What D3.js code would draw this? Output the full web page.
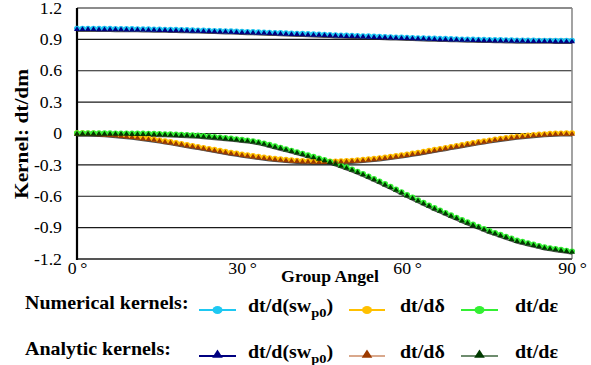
<!DOCTYPE html>
<html>
<head>
<meta charset="UTF-8">
<title>kernels</title>
<style>
  body { margin: 0; background: #fff; }
  svg { display: block; }
  svg text { font-family: "Liberation Serif", "Times New Roman", serif; fill: #000; }
</style>
<script src="https://d3js.org/d3.v7.min.js"></script>
</head>
<body>
<div id="chart"></div>
<script>
// group angle in degrees, one sample per degree
const angles = d3.range(0, 91, 1);

// dt/d(sw_p0)
const kernSw = [
  1.000, 1.000, 1.000, 1.000, 0.999, 0.999, 0.999, 0.998, 0.998, 0.997,
  0.997, 0.996, 0.995, 0.994, 0.993, 0.992, 0.991, 0.990, 0.989, 0.988,
  0.987, 0.985, 0.984, 0.982, 0.981, 0.979, 0.978, 0.976, 0.975, 0.973,
  0.971, 0.969, 0.968, 0.966, 0.964, 0.962, 0.960, 0.958, 0.956, 0.954,
  0.952, 0.951, 0.949, 0.947, 0.945, 0.943, 0.941, 0.938, 0.936, 0.934,
  0.933, 0.931, 0.929, 0.927, 0.925, 0.923, 0.921, 0.919, 0.917, 0.916,
  0.914, 0.912, 0.910, 0.909, 0.907, 0.906, 0.904, 0.903, 0.901, 0.900,
  0.898, 0.897, 0.896, 0.895, 0.894, 0.893, 0.892, 0.891, 0.890, 0.889,
  0.888, 0.888, 0.887, 0.887, 0.886, 0.886, 0.886, 0.885, 0.885, 0.885,
  0.885
];

// dt/d(delta)
const kernDelta = [
  0.000, 0.000, -0.001, -0.003, -0.005, -0.008, -0.012, -0.016, -0.021, -0.026,
  -0.032, -0.038, -0.045, -0.052, -0.059, -0.068, -0.076, -0.084, -0.093, -0.102,
  -0.112, -0.121, -0.130, -0.140, -0.149, -0.158, -0.168, -0.177, -0.186, -0.194,
  -0.203, -0.210, -0.218, -0.225, -0.232, -0.238, -0.244, -0.249, -0.254, -0.258,
  -0.262, -0.265, -0.267, -0.269, -0.270, -0.270, -0.270, -0.269, -0.267, -0.265,
  -0.262, -0.258, -0.254, -0.249, -0.244, -0.238, -0.232, -0.225, -0.218, -0.210,
  -0.203, -0.194, -0.186, -0.177, -0.168, -0.158, -0.149, -0.140, -0.130, -0.121,
  -0.112, -0.102, -0.093, -0.084, -0.076, -0.068, -0.059, -0.052, -0.045, -0.038,
  -0.032, -0.026, -0.021, -0.016, -0.012, -0.008, -0.005, -0.003, -0.001, 0.000,
  0.000
];

// dt/d(epsilon)
const kernEps = [
  0.000, 0.000, 0.000, 0.000, 0.000, 0.000, 0.000, -0.001, -0.001, -0.001,
  -0.002, -0.002, -0.003, -0.004, -0.005, -0.006, -0.008, -0.010, -0.012, -0.014,
  -0.016, -0.019, -0.022, -0.026, -0.030, -0.035, -0.040, -0.045, -0.050, -0.056,
  -0.062, -0.068, -0.075, -0.085, -0.097, -0.110, -0.124, -0.138, -0.152, -0.166,
  -0.180, -0.195, -0.210, -0.225, -0.240, -0.255, -0.271, -0.288, -0.306, -0.325,
  -0.345, -0.367, -0.389, -0.412, -0.436, -0.460, -0.485, -0.511, -0.537, -0.563,
  -0.590, -0.615, -0.640, -0.665, -0.690, -0.715, -0.738, -0.761, -0.784, -0.807,
  -0.830, -0.851, -0.872, -0.893, -0.914, -0.935, -0.953, -0.971, -0.989, -1.007,
  -1.025, -1.038, -1.051, -1.064, -1.077, -1.090, -1.098, -1.106, -1.114, -1.122,
  -1.130
];

// numerical and analytic kernels sit on top of each other in the figure
const numSw = kernSw, numDelta = kernDelta, numEps = kernEps;
const anaSw = kernSw.slice(), anaDelta = kernDelta.slice(), anaEps = kernEps.slice();

const yTicks = [1.2, 0.9, 0.6, 0.3, 0, -0.3, -0.6, -0.9, -1.2];
const xTicks = [0, 30, 60, 90];

const numerical = [
  { name: "sw", values: numSw, color: "#1ec8f2" },
  { name: "delta", values: numDelta, color: "#ffc000" },
  { name: "eps", values: numEps, color: "#33f033" }
];
const analytic = [
  { name: "sw", values: anaSw, color: "#000080", legendLine: "#000080" },
  { name: "delta", values: anaDelta, color: "#9c3a00", legendLine: "#d9a88c" },
  { name: "eps", values: anaEps, color: "#003a00", legendLine: "#6e8c6e" }
];

// the picture is stretched sideways, draw in logical units and let the viewBox stretch
const SX = 1.11;
const W = 591, H = 365;
const px = v => v / SX;
const SERIF = '"Liberation Serif", "Times New Roman", serif';

const svg = d3.select("#chart").append("svg")
  .attr("width", W).attr("height", H)
  .attr("viewBox", `0 0 ${W / SX} ${H}`)
  .attr("preserveAspectRatio", "none");

const x = d3.scaleLinear().domain([0, 90]).range([px(77), px(572)]);
const y = d3.scaleLinear().domain([-1.2, 1.2]).range([259, 8]);

// grid
svg.append("g")
  .selectAll("line").data(yTicks.filter(d => d !== -1.2)).join("line")
  .attr("x1", x(0)).attr("x2", x(90))
  .attr("y1", d => y(d)).attr("y2", d => y(d))
  .attr("stroke", "#1a1a1a").attr("stroke-width", 1.1);

// right edge
svg.append("line")
  .attr("x1", x(90)).attr("x2", x(90)).attr("y1", y(1.2)).attr("y2", y(-1.2))
  .attr("stroke", "#888").attr("stroke-width", 1.4);

// y axis
const yAxis = svg.append("g")
  .attr("transform", `translate(${x(0)},0)`)
  .call(d3.axisLeft(y).tickValues(yTicks).tickSize(0).tickPadding(0)
    .tickFormat(d => d === 0 ? "0" : d.toFixed(1)));
yAxis.select(".domain").remove();
yAxis.selectAll("text")
  .attr("x", px(62) - x(0))
  .style("font-size", "16px")
  .style("font-family", SERIF);

// x axis labels
const xAxis = svg.append("g")
  .attr("transform", `translate(0,${y(-1.2)})`)
  .call(d3.axisBottom(x).tickValues(xTicks).tickSize(0).tickPadding(0)
    .tickFormat(d => d + "\u2009°"));
xAxis.select(".domain").remove();
xAxis.selectAll("text")
  .attr("y", 15).attr("dy", 0)
  .style("font-size", "16px")
  .style("font-family", SERIF);

// frame lines
svg.append("line")
  .attr("x1", x(0)).attr("x2", x(90)).attr("y1", y(-1.2)).attr("y2", y(-1.2))
  .attr("stroke", "#555").attr("stroke-width", 2);
svg.append("line")
  .attr("x1", x(0)).attr("x2", x(0)).attr("y1", y(1.2)).attr("y2", y(-1.2) + 1)
  .attr("stroke", "#000").attr("stroke-width", 2);

// axis titles
svg.append("text")
  .attr("x", px(330)).attr("y", 282)
  .attr("text-anchor", "middle")
  .attr("font-size", 16).attr("font-weight", "bold")
  .text("Group Angel");
svg.append("text")
  .attr("transform", `translate(${px(28)},${134}) rotate(-90)`)
  .attr("text-anchor", "middle")
  .attr("font-size", 17).attr("font-weight", "bold")
  .attr("textLength", 130).attr("lengthAdjust", "spacingAndGlyphs")
  .text("Kernel: dt/dm");

// curves
const line = d3.line().x((d, i) => x(angles[i])).y(d => y(d));
const tri = d3.symbol().type(d3.symbolTriangle).size(13);

analytic.forEach(s => {
  svg.append("path").datum(s.values)
    .attr("d", line)
    .attr("transform", "translate(0,2.2)")
    .attr("fill", "none").attr("stroke", "#222").attr("stroke-width", 1.6)
    .attr("opacity", 0.8);
});
numerical.forEach(s => {
  svg.append("path").datum(s.values)
    .attr("d", line)
    .attr("fill", "none").attr("stroke", s.color).attr("stroke-width", 1.5);
  svg.append("g").selectAll("ellipse").data(s.values).join("ellipse")
    .attr("cx", (d, i) => x(angles[i])).attr("cy", d => y(d) - 0.6)
    .attr("rx", px(3)).attr("ry", 2.6)
    .attr("fill", s.color);
});
analytic.forEach(s => {
  svg.append("g").selectAll("path").data(s.values).join("path")
    .attr("d", tri)
    .attr("transform", (d, i) => `translate(${x(angles[i])},${y(d) + 0.6})`)
    .attr("fill", s.color);
});

// legend
const legendLabels = ["dt/d(sw", "dt/dδ", "dt/dε"];
const legendCols = [
  { l0: 199, l1: 236, text: 248 },
  { l0: 349, l1: 385, text: 400 },
  { l0: 461, l1: 498, text: 515 }
];

function legendRow (title, rowY, series, isNum) {
  svg.append("text")
    .attr("x", px(25)).attr("y", rowY - 1)
    .attr("font-size", 18).attr("font-weight", "bold")
    .text(title);
  series.forEach((s, i) => {
    const c = legendCols[i];
    const ly = rowY;
    svg.append("line")
      .attr("x1", px(c.l0)).attr("x2", px(c.l1)).attr("y1", ly).attr("y2", ly)
      .attr("stroke", isNum ? s.color : s.legendLine).attr("stroke-width", 2);
    const cx = px((c.l0 + c.l1) / 2);
    if (isNum) {
      svg.append("ellipse")
        .attr("cx", cx).attr("cy", ly).attr("rx", px(5)).attr("ry", 4)
        .attr("fill", s.color);
    } else {
      svg.append("path")
        .attr("d", d3.symbol().type(d3.symbolTriangle).size(40))
        .attr("transform", `translate(${cx},${ly - 1})`)
        .attr("fill", s.color);
    }
    const t = svg.append("text")
      .attr("x", px(c.text)).attr("y", rowY + 2)
      .attr("font-size", 18).attr("font-weight", "bold")
      .text(legendLabels[i]);
    if (i === 0) {
      t.append("tspan").attr("dy", 5).attr("font-size", 13).text("p0");
      t.append("tspan").attr("dy", -5).text(")");
    }
  });
}

legendRow("Numerical kernels:", 310, numerical, true);
legendRow("Analytic kernels:", 356, analytic, false);
</script>
</body>
</html>
